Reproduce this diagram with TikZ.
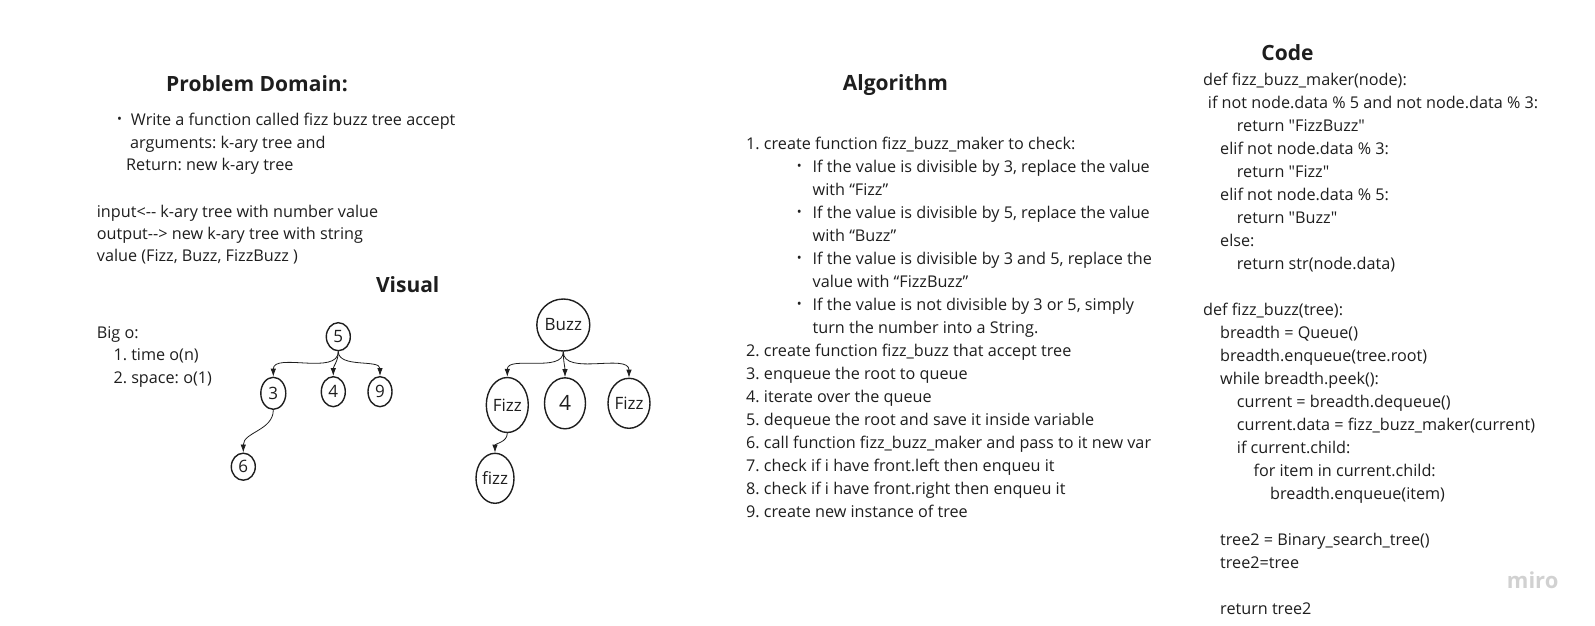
\documentclass[tikz,border=0pt]{standalone}
\usepackage{fontspec}
\setmainfont{Open Sans}[Ligatures=TeXOff]
\usetikzlibrary{shapes.geometric,arrows.meta}
\definecolor{ink}{HTML}{1E1E1E}
\tikzset{
  txt/.style={anchor=base west, inner sep=0pt, font=\fontsize{16.2}{23}\selectfont\frenchspacing, text=ink},
  head/.style={anchor=base, inner sep=0pt, font=\fontsize{21}{25}\selectfont\bfseries, text=ink},
  bul/.style={anchor=center, inner sep=0pt, font=\fontsize{13}{13}\selectfont, text=ink},
  tnode/.style={draw=ink, ellipse, line width=1.4pt, inner sep=0pt, font=\fontsize{17}{20}\selectfont, text=ink},
  arr/.style={draw=ink, -{Latex[length=8pt,width=5.5pt]}, line width=0.8pt},
}
\begin{document}
\begin{tikzpicture}[x=1pt,y=-1pt]
\useasboundingbox (0,0) rectangle (1595,626);
% ---------- Problem domain ----------
\node[head] (hpd) at (257,91.7) {Problem Domain:};
\node[bul] (pb1) at (119.5,120.5) {•};
\node[txt] (pd1) at (130.7,125.7) {Write a function called fizz buzz tree accept};
\node[txt] (pd2) at (130,148) {arguments: k-ary tree and};
\node[txt] (pd3) at (126,170.3) {Return: new k-ary tree};
\node[txt] (io1) at (96.7,217.3) {input<-- k-ary tree with number value};
\node[txt] (io2) at (96.7,239.6) {output--> new k-ary tree with string};
\node[txt] (io3) at (96.7,261.9) {value (Fizz, Buzz, FizzBuzz )};
% ---------- Visual ----------
\node[head] (hvis) at (407.7,292.3) {Visual};
\node[txt] (bo1) at (96.7,338.3) {Big o:};
\node[txt] (bo2) at (113.3,360.7) {1. time o(n)};
\node[txt] (bo3) at (113.3,383.3) {2. space: o(1)};
% tree 1
\node[tnode, minimum width=24pt, minimum height=28pt] (t5) at (338.3,336.7) {5};
\node[tnode, minimum width=25pt, minimum height=32pt] (t3) at (273.3,393.3) {3};
\node[tnode, minimum width=24pt, minimum height=30pt] (t4) at (333.3,391.7) {4};
\node[tnode, minimum width=24pt, minimum height=30pt] (t9) at (380,391.7) {9};
\node[tnode, minimum width=24pt, minimum height=27pt] (t6) at (243.3,466.7) {6};
\draw[arr] (t5.south) to[out=-90,in=90,looseness=0.9] (t3.north);
\draw[arr] (t5.south) to[out=-90,in=90] (t4.north);
\draw[arr] (t5.south) to[out=-90,in=90,looseness=0.9] (t9.north);
\draw[arr] (t3.south) to[out=-90,in=90] (t6.north);
% tree 2
\node[tnode, minimum width=53pt, minimum height=52pt] (bz) at (563.3,325) {Buzz};
\node[tnode, minimum width=42pt, minimum height=55pt] (fl) at (507.3,405) {Fizz};
\node[tnode, minimum width=41pt, minimum height=51pt, font=\fontsize{21}{24}\selectfont] (f4) at (565,403.3) {4};
\node[tnode, minimum width=42pt, minimum height=50pt] (fr) at (629,403.3) {Fizz};
\node[tnode, minimum width=38pt, minimum height=50pt] (fz) at (495,478.3) {fizz};
\draw[arr] (bz.south) to[out=-90,in=90,looseness=0.9] (fl.north);
\draw[arr] (bz.south) to[out=-90,in=90] (f4.north);
\draw[arr] (bz.south) to[out=-90,in=90,looseness=0.9] (fr.north);
\draw[arr] (fl.south) to[out=-90,in=90] (fz.north);
% ---------- Algorithm ----------
\node[head] (halg) at (895.5,90.7) {Algorithm};
\node[txt] (a1) at (746,149.3) {1. create function fizz\_buzz\_maker to check:};
\node[bul] (ab1) at (799.3,167.3) {•};
\node[txt] (a1a) at (812.5,172.3) {If the value is divisible by 3, replace the value};
\node[txt] (a1b) at (812.5,195.3) {with “Fizz”};
\node[bul] (ab2) at (799.3,213.3) {•};
\node[txt] (a1c) at (812.5,218.3) {If the value is divisible by 5, replace the value};
\node[txt] (a1d) at (812.5,241.3) {with “Buzz”};
\node[bul] (ab3) at (799.3,259.3) {•};
\node[txt] (a1e) at (812.5,264.3) {If the value is divisible by 3 and 5, replace the};
\node[txt] (a1f) at (812.5,287.3) {value with “FizzBuzz”};
\node[bul] (ab4) at (799.3,305.3) {•};
\node[txt] (a1g) at (812.5,310.3) {If the value is not divisible by 3 or 5, simply};
\node[txt] (a1h) at (812.5,333.3) {turn the number into a String.};
\node[txt] (a2) at (746,356.3) {2. create function fizz\_buzz that accept tree};
\node[txt] (a3) at (746,379.3) {3. enqueue the root to queue};
\node[txt] (a4) at (746,402.3) {4. iterate over the queue};
\node[txt] (a5) at (746,425.3) {5. dequeue the root and save it inside variable};
\node[txt] (a6) at (746,448.3) {6. call function fizz\_buzz\_maker and pass to it new var};
\node[txt] (a7) at (746,471.3) {7. check if i have front.left then enqueu it};
\node[txt] (a8) at (746,494.3) {8. check if i have front.right then enqueu it};
\node[txt] (a9) at (746,517.3) {9. create new instance of tree};
% ---------- Code ----------
\node[head] (hcode) at (1287.5,60) {Code};
\node[txt] (c1) at (1203,85) {def fizz\_buzz\_maker(node):};
\node[txt] (c2) at (1207.7,108) {if not node.data \% 5 and not node.data \% 3:};
\node[txt] (c3) at (1236.7,131) {return "FizzBuzz"};
\node[txt] (c4) at (1220,154) {elif not node.data \% 3:};
\node[txt] (c5) at (1236.7,177) {return "Fizz"};
\node[txt] (c6) at (1220,200) {elif not node.data \% 5:};
\node[txt] (c7) at (1236.7,223) {return "Buzz"};
\node[txt] (c8) at (1220,246) {else:};
\node[txt] (c9) at (1236.7,269) {return str(node.data)};
\node[txt] (c10) at (1203,315) {def fizz\_buzz(tree):};
\node[txt] (c11) at (1220,338) {breadth = Queue()};
\node[txt] (c12) at (1220,361) {breadth.enqueue(tree.root)};
\node[txt] (c13) at (1220,384) {while breadth.peek():};
\node[txt] (c14) at (1236.7,407) {current = breadth.dequeue()};
\node[txt] (c15) at (1236.7,430) {current.data = fizz\_buzz\_maker(current)};
\node[txt] (c16) at (1236.7,453) {if current.child:};
\node[txt] (c17) at (1253.3,476) {for item in current.child:};
\node[txt] (c18) at (1270,499) {breadth.enqueue(item)};
\node[txt] (c19) at (1220,545) {tree2 = Binary\_search\_tree()};
\node[txt] (c20) at (1220,568) {tree2=tree};
\node[txt] (c21) at (1220,614) {return tree2};
% logo
\node[anchor=base west, inner sep=0pt, font=\fontsize{22}{22}\selectfont\bfseries, text=black!18] (miro) at (1506.7,588) {miro};
\end{tikzpicture}
\end{document}
